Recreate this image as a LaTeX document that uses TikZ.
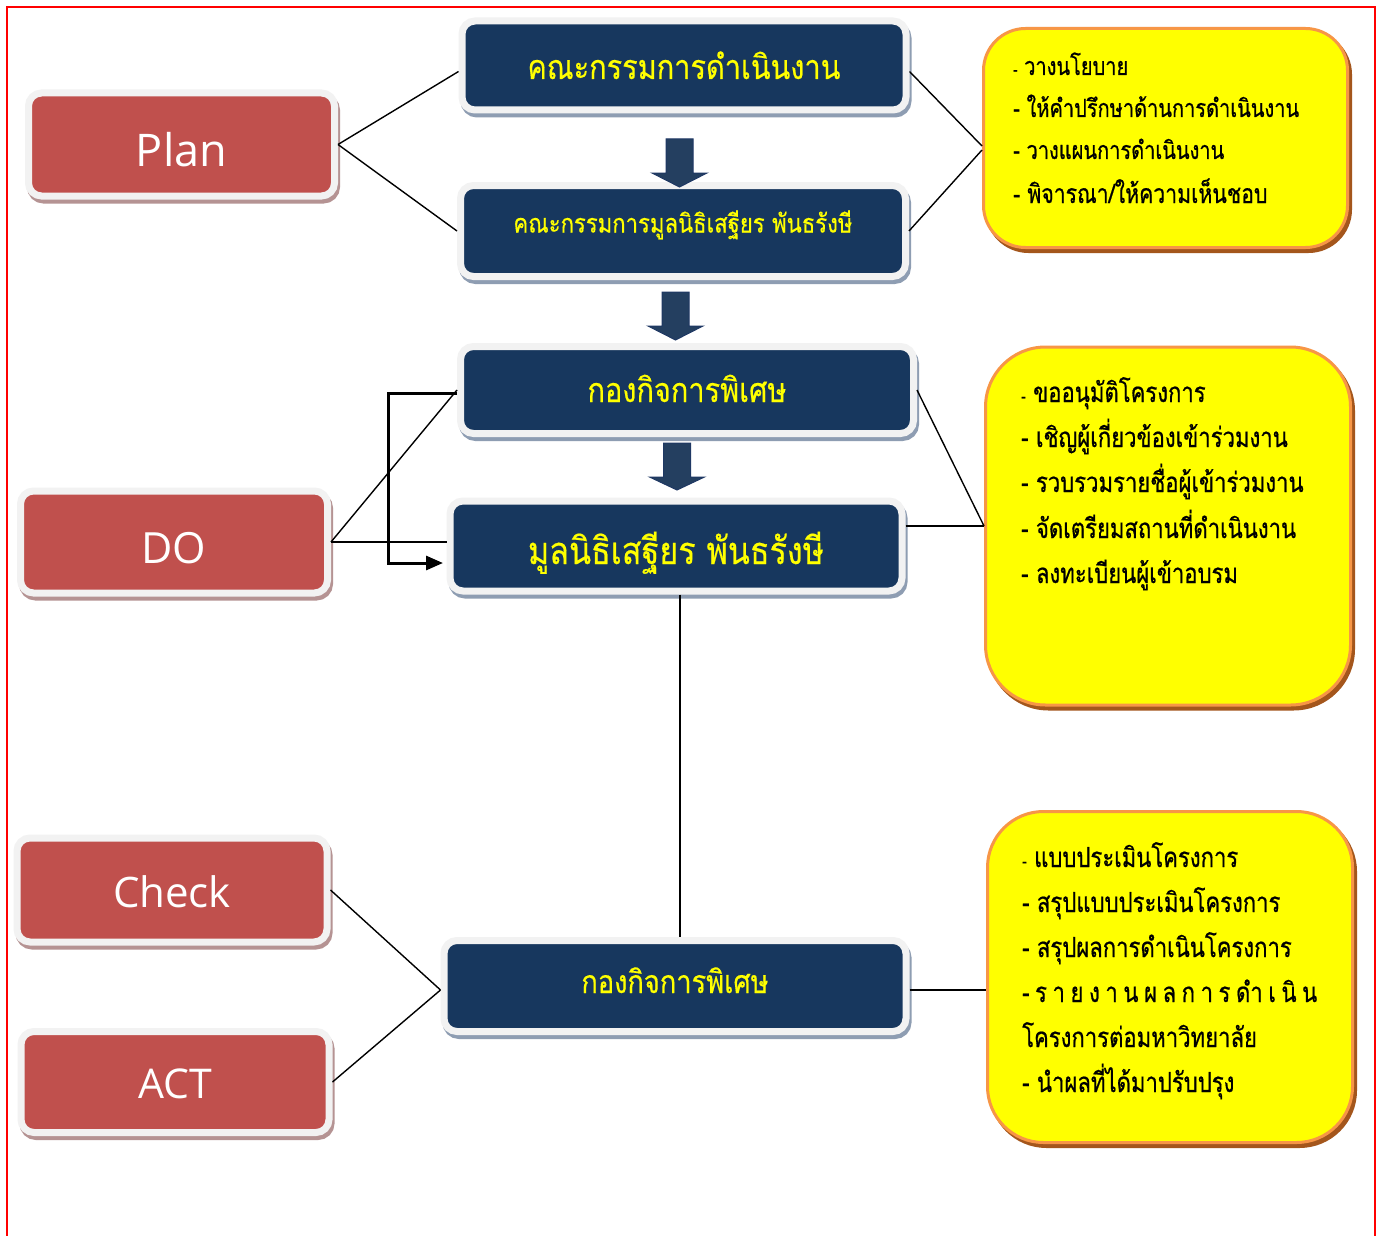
\documentclass[tikz,border=0pt]{standalone}
\usepackage{fontspec}
\setmainfont{Open Sans}
\newfontfamily\thai[Script=Thai,FakeStretch=0.85,FakeBold=0.4]{Loma}
\newfontfamily\thaiy[Script=Thai,FakeStretch=0.8,FakeBold=0.6]{Loma}
\usetikzlibrary{calc,arrows.meta}
\definecolor{redbox}{HTML}{C0504D}
\definecolor{bluebox}{HTML}{17375E}
\definecolor{rim}{HTML}{F2F2F2}
\definecolor{redshadow}{HTML}{B59393}
\definecolor{blueshadow}{HTML}{8E9DB2}
\definecolor{ybox}{HTML}{FFFF00}
\definecolor{yrim}{HTML}{F79646}
\definecolor{yshadow}{HTML}{A4561C}
\definecolor{arrowfill}{HTML}{243F60}
\definecolor{arrowline}{HTML}{1F3864}
\definecolor{thaiyellow}{HTML}{FFFF00}
\tikzset{
  pdcabox/.style={rectangle, rounded corners=13pt, draw=rim, line width=7pt,
    fill=redbox, text=white, inner sep=0pt, text depth=0pt,
    font=\fontsize{#1}{#1}\selectfont,
    preaction={draw=redshadow, fill=redshadow, line width=7pt,
      transform canvas={shift={(2pt,-4pt)}}}},
  orgbox/.style={rectangle, rounded corners=13pt, draw=rim, line width=7pt,
    fill=bluebox, text=thaiyellow, inner sep=0pt, text depth=0pt,
    font=\thai\fontsize{#1}{#1}\selectfont,
    preaction={draw=blueshadow, fill=blueshadow, line width=7pt,
      transform canvas={shift={(2pt,-4pt)}}}},
  notebox/.style={rectangle, draw=yrim, line width=3pt, fill=ybox,
    preaction={draw=yshadow, fill=yshadow, line width=3pt,
      transform canvas={shift={(3pt,-4pt)}}}},
  ytext/.style={anchor=base west, inner sep=0pt, text=black,
    font=\thaiy\fontsize{#1}{#1}\selectfont},
  conn/.style={draw=black, line width=1.4pt},
  elbowline/.style={draw=black, line width=3pt,
    -{Triangle[length=17pt,width=14pt]}},
  blockarrow/.style={fill=arrowfill, draw=arrowline, line width=1pt, line join=miter},
}
\newcommand\blockarr[4]{%
  \draw[blockarrow] ({#1-13.5},#2) -- ({#1+13.5},#2) -- ({#1+13.5},#3) --
    ({#1+27.5},#3) -- (#1,#4) -- ({#1-27.5},#3) -- ({#1-13.5},#3) -- cycle;}
\begin{document}
\begin{tikzpicture}[x=1pt,y=-1pt]
\useasboundingbox (0,0) rectangle (1384,1236);
\fill[white] (0,0) rectangle (1384,1236);
\draw[red, line width=1.6pt] (7,1240) -- (7,7) -- (1375,7) -- (1375,1240);

% PDCA boxes
\node[pdcabox=45, minimum width=306pt, minimum height=103pt, text height=45pt] (plan) at (181.5,144.5) {Plan};
\node[pdcabox=43, minimum width=307pt, minimum height=102pt, text height=43pt] (do) at (174,542) {DO};
\node[pdcabox=42, minimum width=310pt, minimum height=104pt, text height=34pt] (check) at (172,890) {Check};
\node[pdcabox=41, minimum width=308pt, minimum height=101pt, text height=32pt] (act) at (175,1082) {ACT};

% organisation boxes
\node[orgbox=34, minimum width=444pt, minimum height=89pt, text height=27pt] (b1) at (684,65.5) {คณะกรรมการดำเนินงาน};
\node[orgbox=26, minimum width=445pt, minimum height=91pt, text height=3pt] (b2) at (683,231) {คณะกรรมการมูลนิธิเสฐียร พันธรังษี};
\node[orgbox=34, minimum width=453pt, minimum height=87pt, text height=24pt] (b3) at (687,390) {กองกิจการพิเศษ};
\node[orgbox=38, minimum width=452pt, minimum height=90pt, text height=36pt] (b4) at (676,546) {มูลนิธิเสฐียร พันธรังษี};
\node[orgbox=32, minimum width=462pt, minimum height=91pt, text height=14pt] (b5) at (675,986) {กองกิจการพิเศษ};

% note boxes
\node[notebox, rounded corners=42pt, minimum width=364pt, minimum height=219pt] (y1) at (1165.5,138) {};
\node[notebox, rounded corners=60pt, minimum width=365pt, minimum height=358pt] (y2) at (1168,526) {};
\node[notebox, rounded corners=56pt, minimum width=365pt, minimum height=331pt] (y3) at (1170,977) {};

\node[ytext=25] (y1a) at (1013,75) {{\fontsize{16}{16}\selectfont -} วางนโยบาย};
\node[ytext=25] (y1b) at (1013,117) {- ให้คำปรึกษาด้านการดำเนินงาน};
\node[ytext=25] (y1c) at (1013,159) {- วางแผนการดำเนินงาน};
\node[ytext=26.5] (y1d) at (1013,203) {- พิจารณา/ให้ความเห็นชอบ};

\node[ytext=27.6] (y2a) at (1021,402) {{\fontsize{17}{17}\selectfont -} ขออนุมัติโครงการ};
\node[ytext=27.6] (y2b) at (1021,447) {- เชิญผู้เกี่ยวข้องเข้าร่วมงาน};
\node[ytext=27.6] (y2c) at (1021,492) {- รวบรวมรายชื่อผู้เข้าร่วมงาน};
\node[ytext=27.6] (y2d) at (1021,538) {- จัดเตรียมสถานที่ดำเนินงาน};
\node[ytext=27.6] (y2e) at (1021,583) {- ลงทะเบียนผู้เข้าอบรม};

\node[ytext=27.6] (y3a) at (1022,867) {{\fontsize{17}{17}\selectfont -} แบบประเมินโครงการ};
\node[ytext=27.6] (y3b) at (1022,912) {- สรุปแบบประเมินโครงการ};
\node[ytext=27.6] (y3c) at (1022,957) {- สรุปผลการดำเนินโครงการ};
\node[ytext=27.6] (y3d) at (1022,1002) {\makebox[295pt][s]{-\hfill ร\hfill า\hfill ย\hfill ง\hfill า\hfill น\hfill ผ\hfill ล\hfill ก\hfill า\hfill ร\hfill ดำ\hfill เ\hfill นิ\hfill น}};
\node[ytext=27.6] (y3e) at (1022,1047) {โครงการต่อมหาวิทยาลัย};
\node[ytext=27.6] (y3f) at (1022,1092) {- นำผลที่ได้มาปรับปรุง};

% block arrows
\blockarr{679.5}{139}{173}{187}
\blockarr{675.5}{292}{326}{340}
\blockarr{677}{443}{477}{490}

% connectors
\draw[conn] (plan.east) -- ($(b1.west)+(0,6)$);
\draw[conn] (plan.east) -- (b2.west);
\draw[conn] ($(b1.east)+(0,6)$) -- ($(y1.west)+(0,8)$);
\draw[conn] (b2.east) -- ($(y1.west)+(0,12)$);

\draw[conn] (do.east) -- (b3.west);
\draw[conn] (do.east) -- (b4.west |- do.east);
\coordinate (ebend) at (388,563);
\coordinate (etip) at (443,563);
\draw[elbowline] ($(b3.west)+(0,3)$) -| (ebend) -- (etip);

\draw[conn] (b3.east) -- (y2.west);
\draw[conn] (b4.east |- y2.west) -- (y2.west);

\draw[conn] ($(b4.south)+(4,0)$) -- ($(b4.south |- b5.north)+(4,0)$);

\draw[conn] (check.east) -- ($(b5.west)+(0,4)$);
\draw[conn] (act.east) -- ($(b5.west)+(0,4)$);
\draw[conn] ($(b5.east)+(0,4)$) -- ($(b5.east -| y3.west)+(0,4)$);
\end{tikzpicture}
\end{document}
